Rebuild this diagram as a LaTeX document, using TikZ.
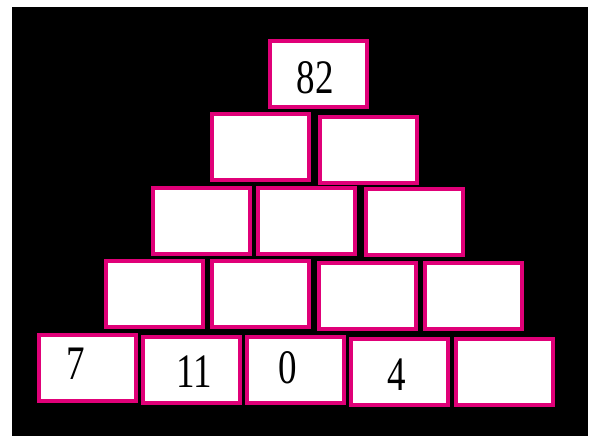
\documentclass[tikz,border=0pt]{standalone}
\usepackage{fontspec}
\setmainfont{Liberation Serif}
\definecolor{boxpink}{RGB}{224,0,120}
\begin{document}
\begin{tikzpicture}[x=1pt,y=-1pt,
  cell/.style={draw=boxpink, line width=4pt, fill=white, minimum width=97pt, minimum height=66pt, inner sep=0pt},
  num/.style={font=\fontsize{37}{40}\selectfont, inner sep=0pt, text=black}]
\fill[white] (0,0) rectangle (589,436);
\fill[black] (12,7) rectangle (588,436);
\useasboundingbox (0,0) rectangle (589,436);
% row 1
\node[cell] (top) at (318,74) {};
% row 2
\node[cell] (a) at (260.5,147) {};
\node[cell] (b) at (368,149.5) {};
% row 3
\node[cell] (c) at (201,220.5) {};
\node[cell] (d) at (306.5,221) {};
\node[cell] (e) at (414.5,222) {};
% row 4
\node[cell] (f) at (154,294) {};
\node[cell] (g) at (260.5,294) {};
\node[cell] (h) at (367,296) {};
\node[cell] (i) at (473.5,296) {};
% row 5
\node[cell] (r1) at (87,368) {};
\node[cell] (r2) at (191.5,370) {};
\node[cell] (r3) at (295.5,370) {};
\node[cell] (r4) at (399.5,372) {};
\node[cell] (r5) at (504.5,372) {};
% numbers
\node[num] (t82) at (315,78) {\scalebox{1}[1.3]{82}};
\node[num] (t7) at (76,364) {\scalebox{1}[1.3]{7}};
\node[num] (t11) at (194,372) {\scalebox{1}[1.3]{11}};
\node[num] (t0) at (288,368) {\scalebox{1}[1.3]{0}};
\node[num] (t4) at (397,375) {\scalebox{1}[1.3]{4}};
\end{tikzpicture}
\end{document}
